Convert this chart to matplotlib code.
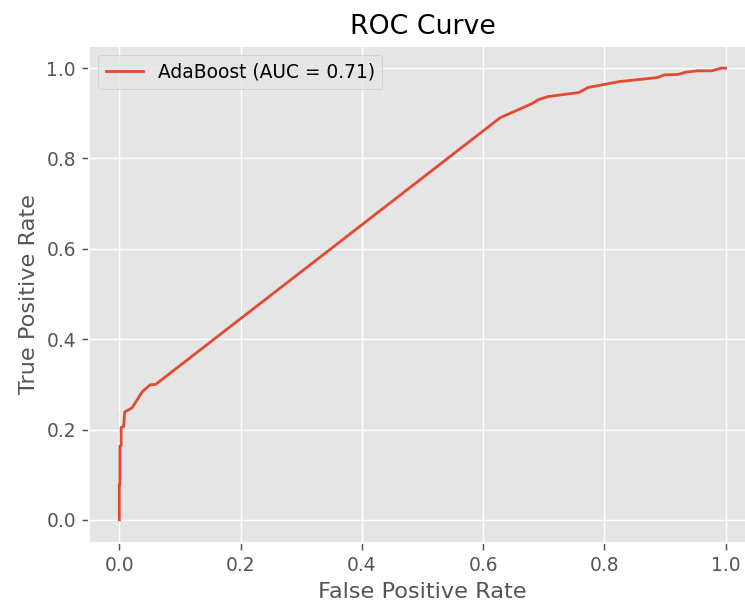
import matplotlib
matplotlib.use('Agg')
import matplotlib.pyplot as plt
import numpy as np

# ROC points
fpr = [0.0, 0.0, 0.001, 0.001, 0.003, 0.003, 0.007, 0.009, 0.021, 0.038, 0.051, 0.06,
       0.628, 0.68, 0.691, 0.707, 0.758, 0.773, 0.824, 0.887, 0.899, 0.922, 0.934,
       0.954, 0.977, 0.993, 1.0]
tpr = [0.0, 0.078, 0.078, 0.163, 0.165, 0.205, 0.206, 0.239, 0.248, 0.284, 0.299, 0.30,
       0.89, 0.921, 0.93, 0.937, 0.946, 0.957, 0.970, 0.979, 0.985, 0.986, 0.991,
       0.994, 0.994, 1.0, 1.0]
label = 'AdaBoost (AUC = 0.71)'

plt.style.use('ggplot')
dpi = 134
fig = plt.figure(figsize=(745 / dpi, 601 / dpi), dpi=dpi)
# axes runs a bit past the right edge, like the cropped original
ax = fig.add_axes([89 / 745, 58.5 / 601, 667 / 745, 497 / 601])
ax.plot(fpr, tpr, label=label)
ax.set_xlabel('False Positive Rate')
ax.set_ylabel('True Positive Rate')
ax.set_title('ROC Curve')
ax.legend(loc='upper left')
fig.savefig('out.png', dpi=dpi)
